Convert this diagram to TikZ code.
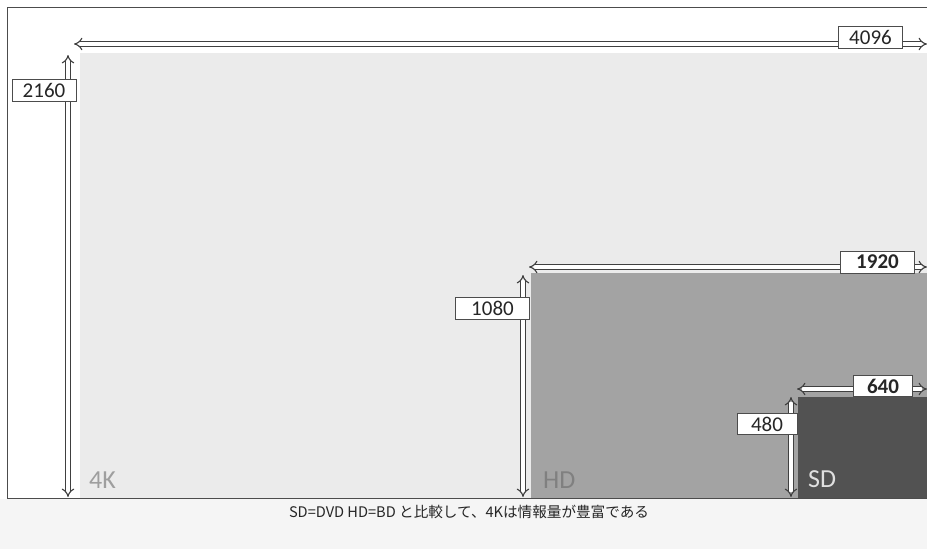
\documentclass[tikz,border=0pt]{standalone}
\usepackage{fontspec}
\setmainfont{Carlito}
\newfontfamily\jpfont{Noto Sans CJK JP}
\usetikzlibrary{arrows.meta}
\begin{document}
\begin{tikzpicture}[x=1pt,y=-1pt,
  dimarrow/.style={draw=black!75,line width=1.1pt,double=white,double distance=3.2pt,{Implies[length=5pt]}-{Implies[length=5pt]}},
  numbox/.style={draw=black!70,fill=white,line width=0.7pt,inner sep=0pt,font=\fontsize{21}{21}\selectfont,text=black!85,anchor=center},
  reslabel/.style={anchor=south west,inner sep=0pt,font=\fontsize{26}{26}\selectfont}]
\useasboundingbox (0,0) rectangle (927,549);
\fill[white] (0,0) rectangle (927,549);
\fill[black!4] (0,499) rectangle (927,549);
% resolution rectangles
\fill[black!8] (80,53) rectangle (927,498);
\fill[black!36] (531,273) rectangle (927,498);
\fill[black!68] (798,397) rectangle (927,498);
% frame
\draw[black!70,line width=0.9pt] (927,7) -- (7,7) -- (7,498) -- (927,498);
% labels of areas
\node[reslabel,text=black!38] (k4) at (89,489) {4K};
\node[reslabel,text=black!50] (hd) at (543,489) {HD};
\node[reslabel,text=black!12] (sd) at (808,488) {SD};
% endpoints
\coordinate (w4l) at (74,44);  \coordinate (w4r) at (927,44);
\coordinate (h4t) at (68,55);  \coordinate (h4b) at (68,497);
\coordinate (whl) at (529,267); \coordinate (whr) at (927,267);
\coordinate (hht) at (523,275); \coordinate (hhb) at (523,497);
\coordinate (wsl) at (797,389); \coordinate (wsr) at (927,389);
\coordinate (hst) at (791,397); \coordinate (hsb) at (791,497);
\draw[dimarrow] (w4l) -- (w4r);
\draw[dimarrow] (h4t) -- (h4b);
\draw[dimarrow] (whl) -- (whr);
\draw[dimarrow] (hht) -- (hhb);
\draw[dimarrow] (wsl) -- (wsr);
\draw[dimarrow] (hst) -- (hsb);
% number boxes
\node[numbox,minimum width=64pt,minimum height=22pt] (n4096) at (870.5,37) {4096};
\node[numbox,minimum width=64pt,minimum height=22pt] (n2160) at (44,90.5) {2160};
\node[numbox,minimum width=74pt,minimum height=22pt,font=\fontsize{21}{21}\selectfont\bfseries] (n1920) at (877.5,262) {1920};
\node[numbox,minimum width=74pt,minimum height=22pt] (n1080) at (492.5,308.5) {1080};
\node[numbox,minimum width=59pt,minimum height=21pt,font=\fontsize{21}{21}\selectfont\bfseries] (n640) at (883,386) {640};
\node[numbox,minimum width=60pt,minimum height=21pt] (n480) at (767,424) {480};
% caption
\node[font=\jpfont\fontsize{14.6}{14.6}\selectfont,text=black!85,inner sep=0pt] (cap) at (469,512) {SD=DVD HD=BD と比較して、4Kは情報量が豊富である};
\end{tikzpicture}
\end{document}
